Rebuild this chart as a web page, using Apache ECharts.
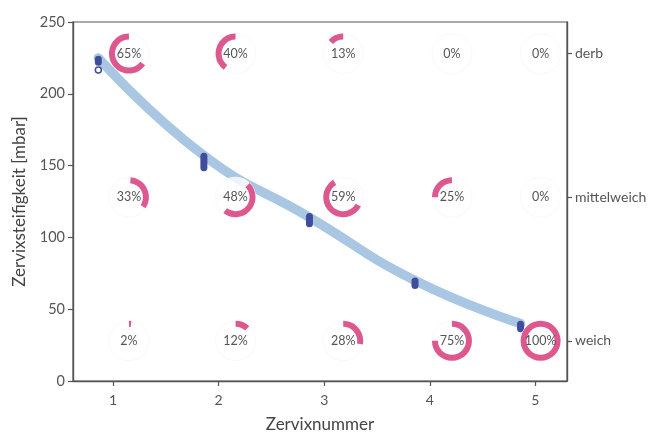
<!DOCTYPE html>
<html>
<head>
<meta charset="utf-8">
<script src="https://cdn.jsdelivr.net/npm/echarts@6/dist/echarts.min.js"></script>
<style>html,body{margin:0;padding:0;background:#fff;overflow:hidden}#c{width:655px;height:432px}</style>
</head>
<body>
<div id="c"></div>
<script>
// ---- data ----
const xTicks = [1, 2, 3, 4, 5];
const sampleX = [0.86, 1.86, 2.86, 3.86, 4.86];
const sampleLow = [219.5, 146, 107, 64, 34];
const sampleHigh = [226.5, 159, 117, 72, 42];
const outlierX = [0.86];
const outlierY = [216.5];
const fitY = [225, 157, 114, 70, 40];
const levelNames = ['weich', 'mittelweich', 'derb'];
const levelValues = [28, 128, 228];
const ringX = [1.15, 2.16, 3.18, 4.21, 5.05];
const pctWeich = [2, 12, 28, 75, 100];
const pctMittel = [33, 48, 59, 25, 0];
const pctDerb = [65, 40, 13, 0, 0];
// arc orientation: start angle (deg, 90 = top) and direction (1 clockwise, -1 counter-clockwise)
const startWeich = [90, 90, 90, 90, 90];
const startMittel = [85, 45, 120, 90, 90];
const startDerb = [90, 90, 90, 90, 90];
const dirWeich = [1, 1, 1, 1, 1];
const dirMittel = [1, 1, -1, -1, 1];
const dirDerb = [-1, -1, -1, 1, 1];

// ---- build ----
const FONT = 'Lato';
const PINK = '#de5890';
const BLUE = '#3f4d9c';
const rows = [[pctWeich, startWeich, dirWeich], [pctMittel, startMittel, dirMittel], [pctDerb, startDerb, dirDerb]];
const ringData = [];
rows.forEach((r, i) => {
  ringX.forEach((x, j) => {
    ringData.push([x, levelValues[i], r[0][j], r[1][j], r[2][j]]);
  });
});
const pillData = sampleX.map((x, i) => [x, sampleLow[i], sampleHigh[i]]);
const fitData = sampleX.map((x, i) => [x, fitY[i]]);
const outlierData = outlierX.map((x, i) => [x, outlierY[i]]);

const chart = echarts.init(document.getElementById('c'), null, {renderer: 'canvas'});
const axisCol = '#555';
chart.setOption({
  animation: false,
  textStyle: {fontFamily: FONT},
  grid: {left: 73, right: 88, top: 22, bottom: 51, show: true, borderColor: axisCol, borderWidth: 1.2,
    containLabel: false, outerBoundsMode: 'none'},
  xAxis: {
    type: 'value', min: 0.62, max: 5.3,
    name: 'Zervixnummer', nameLocation: 'middle', nameGap: 35,
    nameTextStyle: {fontSize: 17, color: '#444', fontFamily: FONT},
    axisLine: {show: true, lineStyle: {color: axisCol, width: 1.4}},
    axisTick: {show: true, length: 5, customValues: xTicks, lineStyle: {color: axisCol, width: 1.2}},
    axisLabel: {customValues: xTicks, fontSize: 14, color: '#555', margin: 12, fontFamily: FONT},
    splitLine: {show: false}
  },
  yAxis: [{
    type: 'value', min: 0, max: 250, interval: 50,
    name: 'Zervixsteifigkeit [mbar]', nameLocation: 'middle', nameGap: 45, nameRotate: 90,
    nameTextStyle: {fontSize: 17, color: '#444', fontFamily: FONT},
    axisLine: {show: true, lineStyle: {color: axisCol, width: 1.4}},
    axisTick: {show: true, length: 5, lineStyle: {color: axisCol, width: 1.2}},
    axisLabel: {fontSize: 14.5, color: '#555', margin: 8, fontFamily: FONT},
    splitLine: {show: false}
  }, {
    type: 'value', min: 0, max: 250, position: 'right',
    axisLine: {show: true, lineStyle: {color: axisCol, width: 1.4}},
    axisTick: {show: true, length: 5, customValues: levelValues, lineStyle: {color: axisCol, width: 1.2}},
    axisLabel: {
      customValues: levelValues, fontSize: 14, color: '#555', margin: 8, fontFamily: FONT,
      formatter: v => levelNames[levelValues.indexOf(v)] || ''
    },
    splitLine: {show: false}
  }],
  series: [{
    type: 'line', data: fitData, smooth: 0.5, symbol: 'none', z: 2,
    lineStyle: {color: '#a9c6e3', width: 9.5, cap: 'round'}
  }, {
    type: 'custom', data: pillData, z: 3,
    renderItem: (params, api) => {
      const a = api.coord([api.value(0), api.value(1)]);
      const b = api.coord([api.value(0), api.value(2)]);
      const w = 7;
      return {type: 'rect', shape: {x: a[0] - w / 2, y: b[1], width: w, height: a[1] - b[1], r: w / 2},
        style: {fill: BLUE}};
    }
  }, {
    type: 'scatter', data: outlierData, symbol: 'circle', symbolSize: 6, z: 4,
    itemStyle: {color: '#fff', borderColor: BLUE, borderWidth: 1.5, opacity: 1}
  }, {
    type: 'custom', data: ringData, z: 5,
    renderItem: (params, api) => {
      const c = api.coord([api.value(0), api.value(1)]);
      const p = api.value(2), st = api.value(3), dir = api.value(4);
      const a0 = -st * Math.PI / 180;
      const sweep = p / 100 * Math.PI * 2;
      let sa, ea;
      if (dir > 0) { sa = a0; ea = a0 + sweep; } else { sa = a0 - sweep; ea = a0; }
      const children = [{
        type: 'circle', shape: {cx: c[0], cy: c[1], r: 20},
        style: {fill: 'rgba(255,255,255,0.8)', stroke: '#f8f8f8', lineWidth: 1}
      }];
      if (p > 0) {
        children.push({type: 'sector', shape: {cx: c[0], cy: c[1], r: 20, r0: 14, startAngle: sa, endAngle: ea, clockwise: true},
          style: {fill: PINK}});
      }
      children.push({type: 'text', style: {text: p + '%', x: c[0], y: c[1], align: 'center', verticalAlign: 'middle',
        fontSize: 12.5, fill: '#555', fontFamily: FONT}});
      return {type: 'group', children: children};
    }
  }]
});
</script>
</body>
</html>
